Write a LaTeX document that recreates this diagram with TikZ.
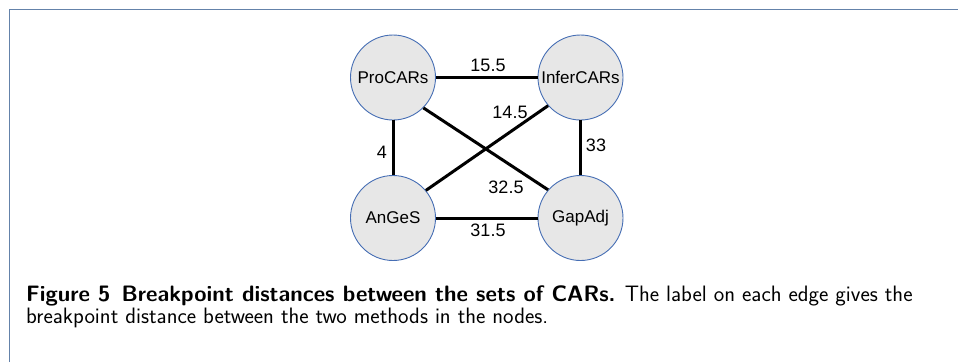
\documentclass[tikz,border=0pt]{standalone}
\usepackage{fontspec}
\newfontfamily\arialfont{Liberation Sans}
\begin{document}
\begin{tikzpicture}[x=1pt,y=-1pt,
  method/.style={circle,draw={rgb,255:red,70;green,110;blue,180},line width=0.9pt,
    fill={rgb,255:red,231;green,231;blue,231},minimum size=85pt,inner sep=0pt,
    font=\arialfont\fontsize{17}{20}\selectfont},
  edge/.style={line width=3pt,black},
  dist/.style={font=\arialfont\fontsize{18}{21}\selectfont,inner sep=0pt},
  frameline/.style={line width=1.8pt,draw={rgb,255:red,100;green,130;blue,170}}]
\useasboundingbox (0,0) rectangle (958,362);
\coordinate (fa) at (9.5,362);
\coordinate (fb) at (9.5,9.5);
\coordinate (fc) at (958,9.5);
\draw[frameline] (fa) -- (fb) -- (fc);
\node[method] (pro) at (393,77.5) {ProCARs};
\node[method] (inf) at (580.5,77.5) {InferCARs};
\node[method] (ang) at (393,218) {AnGeS};
\node[method] (gap) at (580.5,218) {GapAdj};
\draw[edge] (pro) -- (inf);
\draw[edge] (ang) -- (gap);
\draw[edge] (pro) -- (ang);
\draw[edge] (inf) -- (gap);
\draw[edge] (pro.-45) -- (gap.139);
\draw[edge] (ang.40) -- (inf.-139);
\node[dist] (l1) at (488,65) {15.5};
\node[dist] (l2) at (510,112) {14.5};
\node[dist] (l3) at (506,187) {32.5};
\node[dist] (l4) at (382,152) {4};
\node[dist] (l5) at (596,145) {33};
\node[dist] (l6) at (488,230) {31.5};
\node[anchor=base west,inner sep=0pt,align=left,font=\sffamily\fontsize{22.3}{22}\selectfont] (cap) at (26,323)
  {\textbf{Figure 5\enspace Breakpoint distances between the sets of CARs.} The label on each edge gives the\\
   breakpoint distance between the two methods in the nodes.};
\end{tikzpicture}
\end{document}
